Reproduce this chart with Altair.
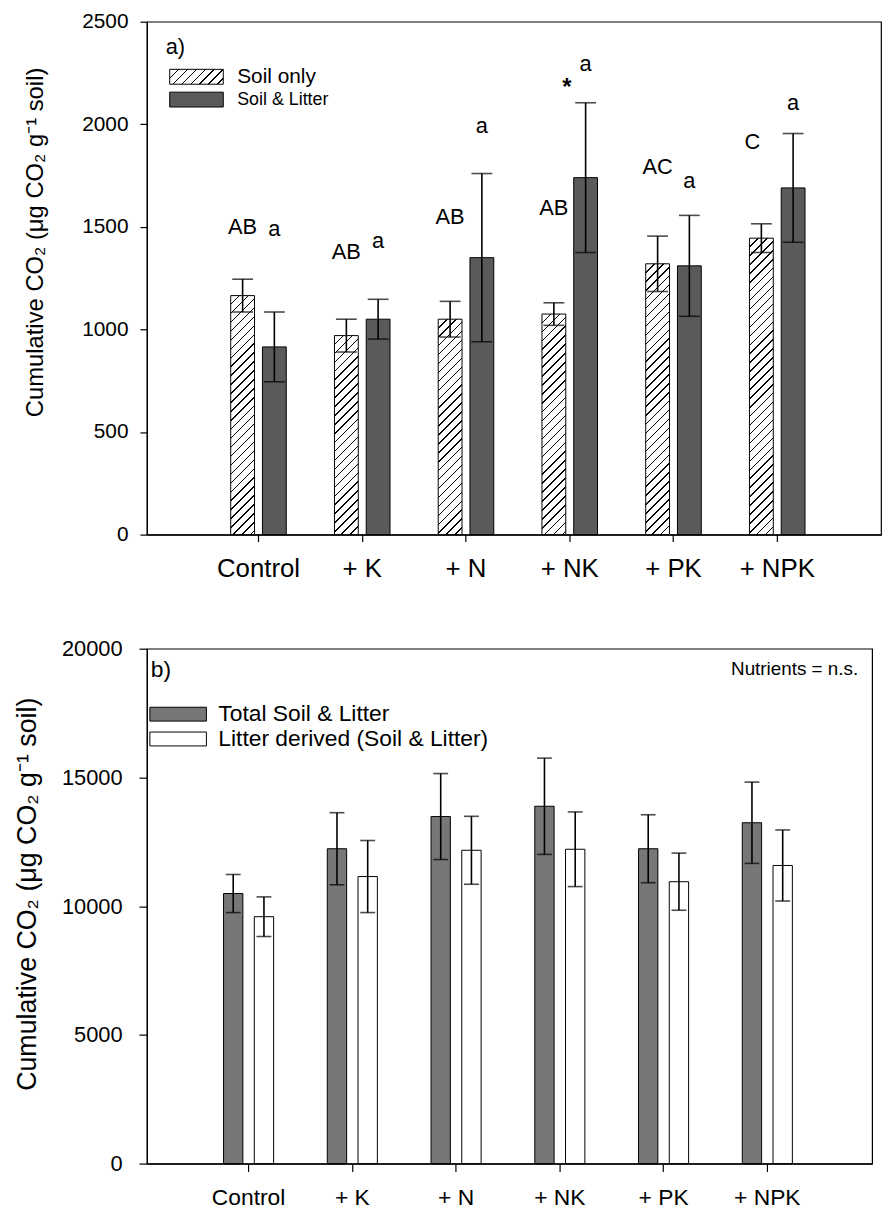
import altair as alt
import pandas as pd

FONT = "Liberation Sans"

# ---------------- data ----------------
treatments = ["Control", "+ K", "+ N", "+ NK", "+ PK", "+ NPK"]

# panel a
groups_a = ["Soil only", "Soil & Litter"]
soil_only_mean = [1165, 970, 1050, 1075, 1320, 1445]
soil_only_se = [80, 80, 87, 55, 135, 70]
soil_litter_mean = [915, 1050, 1350, 1740, 1310, 1690]
soil_litter_se = [170, 97, 410, 365, 246, 265]

letters_treat = ["Control", "Control", "+ K", "+ K", "+ N", "+ N", "+ NK", "+ NK",
                 "+ NK", "+ PK", "+ PK", "+ NPK", "+ NPK"]
letters_group = ["Soil only", "Soil & Litter", "Soil only", "Soil & Litter", "Soil only",
                 "Soil & Litter", "Soil only", "Soil & Litter", "Soil & Litter", "Soil only",
                 "Soil & Litter", "Soil only", "Soil & Litter"]
letters_text = ["AB", "a", "AB", "a", "AB", "a", "AB", "*", "a", "AC", "a", "C", "a"]
letters_y = [1500, 1488, 1379, 1433, 1549, 1989, 1592, 2175, 2292, 1791, 1723, 1912, 2105]

# panel b
groups_b = ["Total Soil & Litter", "Litter derived (Soil & Litter)"]
total_mean = [10490, 12230, 13480, 13880, 12230, 13240]
total_se = [740, 1400, 1670, 1870, 1320, 1580]
litter_mean = [9590, 11150, 12170, 12210, 10950, 11580]
litter_se = [770, 1400, 1320, 1450, 1110, 1380]

y_title = "Cumulative CO\u2082 (\u03bcg CO\u2082 g\u207b\u00b9 soil)"

# ---------------- tables ----------------
dfa = pd.DataFrame({
    "treatment": treatments * 2,
    "group": [groups_a[0]] * 6 + [groups_a[1]] * 6,
    "mean": soil_only_mean + soil_litter_mean,
    "se": soil_only_se + soil_litter_se,
})
dfa["lo"] = dfa["mean"] - dfa["se"]
dfa["hi"] = dfa["mean"] + dfa["se"]

dfl = pd.DataFrame({"treatment": letters_treat, "group": letters_group,
                    "label": letters_text, "ly": letters_y})

dfb = pd.DataFrame({
    "treatment": treatments * 2,
    "group": [groups_b[0]] * 6 + [groups_b[1]] * 6,
    "mean": total_mean + litter_mean,
    "se": total_se + litter_se,
})
dfb["lo"] = dfb["mean"] - dfb["se"]
dfb["hi"] = dfb["mean"] + dfb["se"]


def hatch(w, h, period=9.0, lw=1.5):
    """Diagonal '/' hatching as a sharp-stop linear gradient in bbox units."""
    tot = w + h
    half = lw / 2.0 / tot
    stops = [alt.GradientStop(offset=0, color="white")]
    i = 1
    while True:
        c = i * period / tot
        if c + half >= 1:
            break
        stops += [alt.GradientStop(offset=round(c - half, 5), color="white"),
                  alt.GradientStop(offset=round(c - half, 5), color="black"),
                  alt.GradientStop(offset=round(c + half, 5), color="black"),
                  alt.GradientStop(offset=round(c + half, 5), color="white")]
        i += 1
    stops.append(alt.GradientStop(offset=1, color="white"))
    d = w * w + h * h
    return alt.LinearGradient(gradient="linear", stops=stops, x1=0, y1=0,
                              x2=w * tot / d, y2=h * tot / d)


# ---------------- panel a ----------------
W1, H1 = 740, 517
PO1, AL1 = 0.538, 0.535
OFF_PI1, OFF_PO1 = 0.25, 0.759
DARK_A = "#5a5a5a"

axis_xa = alt.Axis(title=None, labelAngle=0, labelFont=FONT, labelFontSize=26,
                   labelColor="black", tickSize=7, tickColor="black", tickWidth=1.2,
                   labelPadding=14, domainColor="black", domainWidth=1.2)
axis_ya = alt.Axis(title=y_title, values=[0, 500, 1000, 1500, 2000, 2500], format="d",
                   grid=False,
                   labelFont=FONT, labelFontSize=21, labelColor="black", tickSize=7,
                   tickColor="black", tickWidth=1.2, labelPadding=12,
                   domainColor="black", domainWidth=1.2,
                   titleFont=FONT, titleFontSize=24, titleFontWeight="normal",
                   titleColor="black", titleAngle=270, titleAlign="center",
                   titleBaseline="middle", titleX=-112, titleY=222)
xa = alt.X("treatment:N", sort=treatments,
           scale=alt.Scale(domain=treatments, paddingInner=0, paddingOuter=PO1, align=AL1),
           axis=axis_xa)
xoa = alt.XOffset("group:N", sort=groups_a,
                  scale=alt.Scale(domain=groups_a, paddingInner=OFF_PI1, paddingOuter=OFF_PO1))
sca = alt.Scale(domain=[0, 2500], nice=False, zero=True)


def ya(field):
    return alt.Y(field, scale=sca, axis=axis_ya)


stepx1 = W1 / (6 + 2 * PO1)
bw1 = stepx1 / (2 - OFF_PI1 + 2 * OFF_PO1) * (1 - OFF_PI1)

base_a = alt.Chart(dfa)
dark_a = base_a.transform_filter(alt.datum.group == groups_a[1]).mark_bar(
    fill=DARK_A, stroke="black", strokeWidth=1).encode(x=xa, xOffset=xoa, y=ya("mean:Q"))

hatched_layers = []
for t, m in zip(treatments, soil_only_mean):
    hatched_layers.append(
        base_a.transform_filter((alt.datum.group == groups_a[0]) & (alt.datum.treatment == t))
        .mark_bar(fill=hatch(bw1, m * H1 / 2500.0), stroke="black", strokeWidth=1)
        .encode(x=xa, xOffset=xoa, y=ya("mean:Q"))
    )

err_a = base_a.mark_rule(color="black", strokeWidth=1.6).encode(
    x=xa, xOffset=xoa, y=ya("lo:Q"), y2="hi:Q")
caps_a = base_a.transform_fold(["lo", "hi"], as_=["end", "val"]).mark_tick(
    color="black", thickness=1.6, size=21).encode(x=xa, xOffset=xoa, y=ya("val:Q"))

base_l = alt.Chart(dfl)
txt_main = base_l.transform_filter(
    (alt.datum.label != "*") & (alt.datum.label != "C")).mark_text(
    font=FONT, fontSize=22, color="black", baseline="middle").encode(
    x=xa, xOffset=xoa, y=ya("ly:Q"), text="label:N")
txt_star = base_l.transform_filter(alt.datum.label == "*").mark_text(
    font=FONT, fontSize=24, fontWeight="bold", color="black", baseline="middle", dx=-19).encode(
    x=xa, xOffset=xoa, y=ya("ly:Q"), text="label:N")
txt_c = base_l.transform_filter(alt.datum.label == "C").mark_text(
    font=FONT, fontSize=22, color="black", baseline="middle", dx=-9).encode(
    x=xa, xOffset=xoa, y=ya("ly:Q"), text="label:N")


def label_layer(text, x, y, size, align="left"):
    return alt.Chart(pd.DataFrame({"label": [text]})).mark_text(
        font=FONT, fontSize=size, color="black", align=align, baseline="middle").encode(
        x=alt.value(x), y=alt.value(y), text="label:N")


def swatch(name, fill, x, x2, y, y2):
    return alt.Chart(pd.DataFrame({"label": [name]})).mark_rect(
        fill=fill, stroke="black", strokeWidth=1).encode(
        x=alt.value(x), x2=alt.value(x2), y=alt.value(y), y2=alt.value(y2))


leg_a = [
    label_layer("a)", 19, 26, 22),
    swatch(groups_a[0], hatch(54, 15, period=9.0), 23, 77, 48, 63),
    swatch(groups_a[1], DARK_A, 23, 77, 71, 86),
    label_layer(groups_a[0], 91, 56, 21),
    label_layer(groups_a[1], 91, 79, 18),
]

panel_a = alt.layer(dark_a, *hatched_layers, err_a, caps_a, txt_main, txt_star, txt_c,
                    *leg_a).properties(width=W1, height=H1)

# ---------------- panel b ----------------
W2, H2 = 731, 519
PO2, AL2 = 0.495, 0.485
OFF_PI2, OFF_PO2 = 0.371, 0.873
DARK_B = "#777777"

axis_xb = alt.Axis(title=None, labelAngle=0, labelFont=FONT, labelFontSize=23,
                   labelColor="black", tickSize=8, tickColor="black", tickWidth=1.2,
                   labelPadding=15, domainColor="black", domainWidth=1.2)
axis_yb = alt.Axis(title=y_title, values=[0, 5000, 10000, 15000, 20000], format="d",
                   grid=False,
                   labelFont=FONT, labelFontSize=22, labelColor="black", tickSize=8,
                   tickColor="black", tickWidth=1.2, labelPadding=17,
                   domainColor="black", domainWidth=1.2,
                   titleFont=FONT, titleFontSize=27, titleFontWeight="normal",
                   titleColor="black", titleAngle=270, titleAlign="center",
                   titleBaseline="middle", titleX=-120, titleY=247)
xb = alt.X("treatment:N", sort=treatments,
           scale=alt.Scale(domain=treatments, paddingInner=0, paddingOuter=PO2, align=AL2),
           axis=axis_xb)
xob = alt.XOffset("group:N", sort=groups_b,
                  scale=alt.Scale(domain=groups_b, paddingInner=OFF_PI2, paddingOuter=OFF_PO2))
scb = alt.Scale(domain=[0, 20000], nice=False, zero=True)


def yb(field):
    return alt.Y(field, scale=scb, axis=axis_yb)


base_b = alt.Chart(dfb)
bars_b = base_b.mark_bar(stroke="black", strokeWidth=1).encode(
    x=xb, xOffset=xob, y=yb("mean:Q"),
    fill=alt.Fill("group:N", scale=alt.Scale(domain=groups_b, range=[DARK_B, "white"]),
                  legend=None))
err_b = base_b.mark_rule(color="black", strokeWidth=1.6).encode(
    x=xb, xOffset=xob, y=yb("lo:Q"), y2="hi:Q")
caps_b = base_b.transform_fold(["lo", "hi"], as_=["end", "val"]).mark_tick(
    color="black", thickness=1.6, size=15).encode(x=xb, xOffset=xob, y=yb("val:Q"))

leg_b = [
    label_layer("b)", 4, 22, 23),
    label_layer("Nutrients = n.s.", 717, 21, 19, align="right"),
    swatch(groups_b[0], DARK_B, 3, 60, 59, 73),
    swatch(groups_b[1], "white", 3, 60, 84, 98),
    label_layer(groups_b[0], 72, 66, 23),
    label_layer(groups_b[1], 72, 91, 23),
]

panel_b = alt.layer(bars_b, err_b, caps_b, *leg_b).properties(width=W2, height=H2)

chart = alt.vconcat(panel_a, panel_b, spacing=55).resolve_scale(
    x="independent", y="independent", xOffset="independent", fill="independent"
).properties(
    padding={"left": 5, "right": 2, "top": -3, "bottom": 0}
).configure_view(stroke="black", strokeWidth=1.2)

chart.save("out.html", embed_options={"renderer": "svg", "actions": False})
